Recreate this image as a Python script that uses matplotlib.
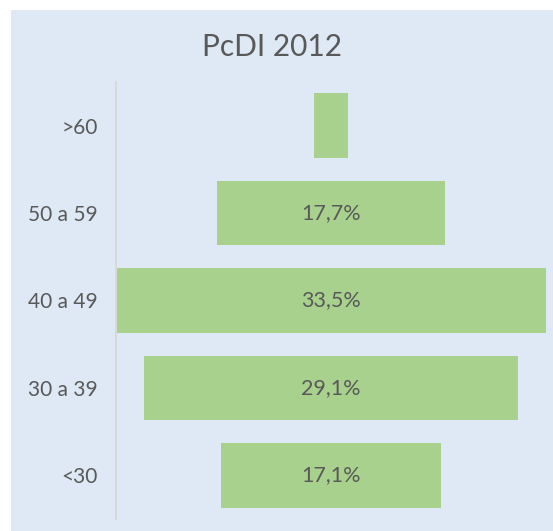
import matplotlib.pyplot as plt
from matplotlib.patches import Rectangle

# age bands, top to bottom, and share of staff (%)
categories = [">60", "50 a 59", "40 a 49", "30 a 39", "<30"]
values = [2.6, 17.7, 33.5, 29.1, 17.1]
labels = ["", "17,7%", "33,5%", "29,1%", "17,1%"]

W, H = 553, 531
plt.rcParams["font.family"] = ["Lato", "DejaVu Sans"]
fig = plt.figure(figsize=(W / 100, H / 100), dpi=100, facecolor="white")
fig.patches.append(Rectangle((11 / W, 0), 1 - 11 / W, 1 - 10 / H, transform=fig.transFigure,
                             facecolor="#dee9f5", edgecolor="none", zorder=-1))

ax = fig.add_axes([116 / W, 1 - 519 / H, (546 - 116) / W, (519 - 82) / H])
ax.set_facecolor("none")

ypos = list(range(len(categories)))
lefts = [-v / 2 for v in values]
ax.barh(ypos, values, left=lefts, height=0.74, color="#a9d18e", edgecolor="none")
for y, lab in zip(ypos, labels):
    if lab:
        ax.text(0, y, lab, ha="center", va="center", fontsize=15.5, color="#595959")

ax.set_xlim(-max(values) / 2, max(values) / 2)
ax.set_ylim(len(categories) - 0.5, -0.5)
ax.set_yticks(ypos)
ax.set_yticklabels(categories, fontsize=15, color="#595959")
ax.tick_params(axis="y", length=0, pad=13)
ax.set_xticks([])
for s in ["top", "right", "bottom"]:
    ax.spines[s].set_visible(False)
ax.spines["left"].set_color("#d9d9d9")
ax.spines["left"].set_linewidth(1.5)

fig.text(272 / W, 1 - 47 / H, "PcDI 2012", ha="center", va="center",
         fontsize=21.5, color="#595959")

fig.savefig("out.png", dpi=100)
